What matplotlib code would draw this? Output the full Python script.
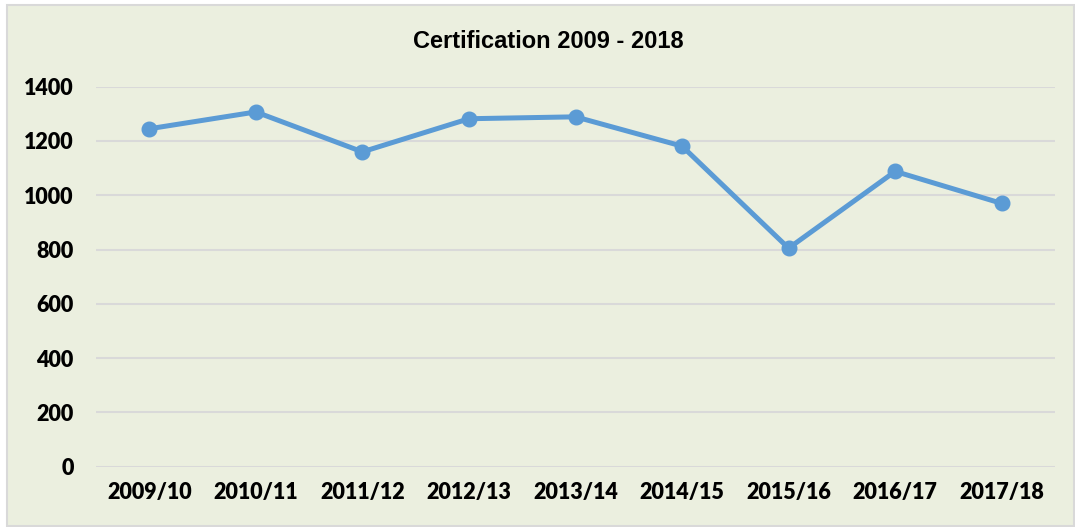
import matplotlib.pyplot as plt
from matplotlib.patches import Rectangle

# data
years = ['2009/10', '2010/11', '2011/12', '2012/13', '2013/14',
         '2014/15', '2015/16', '2016/17', '2017/18']
certs = [1245, 1307, 1160, 1282, 1289, 1181, 805, 1088, 970]
yticks = [0, 200, 400, 600, 800, 1000, 1200, 1400]

bg = '#EBEFDF'
fig = plt.figure(figsize=(10.75, 5.27), dpi=100)
fig.patch.set_facecolor('white')

# chart box with light grey border
W, H = 1075, 527
box = Rectangle((7 / W, 1 / H), (W - 8) / W, (H - 6) / H,
                transform=fig.transFigure, facecolor=bg,
                edgecolor='#D9D9D9', linewidth=1.5, zorder=-10)
fig.add_artist(box)

ax = fig.add_axes([96 / W, 1 - 466.7 / H, 959 / W, 380 / H])
ax.patch.set_alpha(0)

x = list(range(len(years)))
ax.plot(x, certs, color='#5B9BD5', linewidth=3.6, marker='o',
        markersize=10.5, solid_capstyle='round', zorder=3)

ax.set_xlim(-0.5, len(years) - 0.5)
ax.set_ylim(0, 1400)
ax.set_yticks(yticks)
ax.set_xticks(x)
ax.set_xticklabels(years)
ax.grid(axis='y', color='#D9D9D9', linewidth=1.5)
ax.set_axisbelow(True)
for s in ax.spines.values():
    s.set_visible(False)
ax.tick_params(length=0, pad=16)
ax.tick_params(axis='x', pad=11)
for lab in ax.get_xticklabels() + ax.get_yticklabels():
    lab.set_family('Lato')
    lab.set_fontweight('heavy')
    lab.set_fontsize(15.5)

fig.text(548 / W, 1 - 41 / H, 'Certification 2009 - 2018', ha='center',
         va='center', family='Liberation Sans', fontweight='bold', fontsize=17)

fig.savefig('out.png', dpi=100, facecolor=fig.get_facecolor())
